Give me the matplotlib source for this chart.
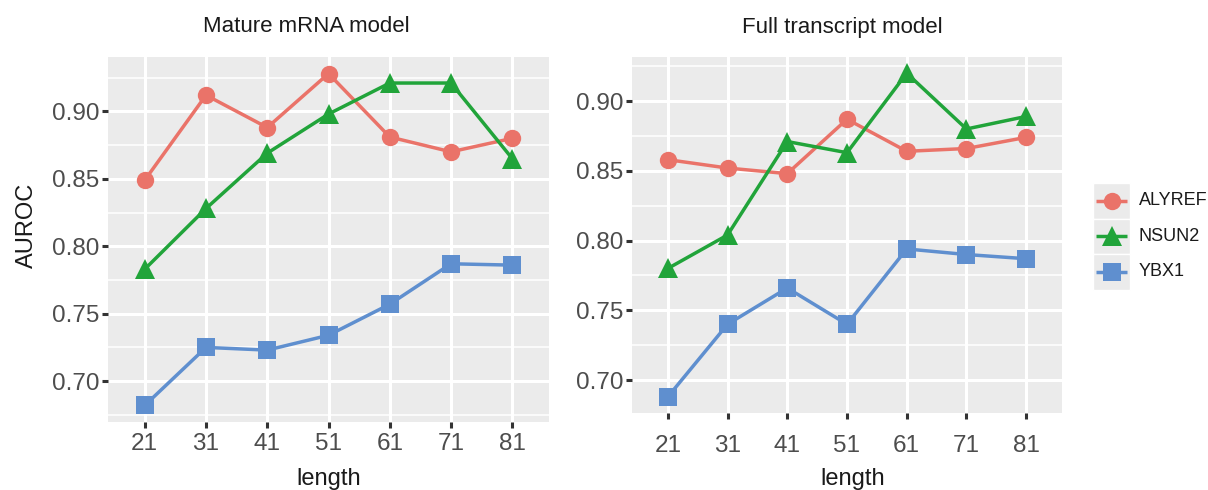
import matplotlib
matplotlib.use("Agg")
import matplotlib.pyplot as plt
from matplotlib.patches import Rectangle
from matplotlib.ticker import FixedLocator
import numpy as np

plt.rcParams['font.family'] = ['Liberation Sans', 'DejaVu Sans']

# ---- data ----
lengths = [21, 31, 41, 51, 61, 71, 81]
series_names = ["ALYREF", "NSUN2", "YBX1"]

mature_alyref = [0.849, 0.912, 0.888, 0.928, 0.881, 0.870, 0.880]
mature_nsun2 = [0.783, 0.828, 0.869, 0.898, 0.921, 0.921, 0.865]
mature_ybx1 = [0.682, 0.725, 0.723, 0.734, 0.757, 0.787, 0.786]

full_alyref = [0.858, 0.852, 0.848, 0.887, 0.864, 0.866, 0.874]
full_nsun2 = [0.780, 0.804, 0.871, 0.863, 0.920, 0.880, 0.889]
full_ybx1 = [0.688, 0.740, 0.766, 0.740, 0.794, 0.790, 0.787]

panel_titles = ["Mature mRNA model", "Full transcript model"]
y_ticks = [0.70, 0.75, 0.80, 0.85, 0.90]
y_minor = [0.675, 0.725, 0.775, 0.825, 0.875, 0.925]
x_label = "length"
y_label = "AUROC"

# ---- styles ----
colors = ['#EA7369', '#21A43A', '#5F8FCF']
markers = ['o', '^', 's']
msizes = [12.5, 14, 12.5]
bg = '#EBEBEB'
tick_col = '#4D4D4D'

W, H = 1208, 490
fig = plt.figure(figsize=(W / 100, H / 100), dpi=100)


def px_axes(x0, y0, x1, y1):
    return fig.add_axes([x0 / W, 1 - y1 / H, (x1 - x0) / W, (y1 - y0) / H])


ax1 = px_axes(108, 57, 549, 422)
ax2 = px_axes(632, 57, 1062, 413)

panels = [
    (ax1, [mature_alyref, mature_nsun2, mature_ybx1], 4, 329),
    (ax2, [full_alyref, full_nsun2, full_ybx1], 12, 853),
]

for ax, data, xpad, xlab_x in panels:
    ax.set_facecolor(bg)
    allv = np.concatenate([np.array(d) for d in data])
    lo, hi = allv.min(), allv.max()
    pad = 0.05 * (hi - lo)
    ax.set_ylim(lo - pad, hi + pad)
    ax.set_xlim(lengths[0] - 6, lengths[-1] + 6)
    for s, vals in enumerate(data):
        ax.plot(lengths, vals, color=colors[s], lw=2.5, marker=markers[s],
                markersize=msizes[s], markeredgewidth=0, zorder=3,
                solid_capstyle='butt')
    ax.yaxis.set_major_locator(FixedLocator(y_ticks))
    ax.yaxis.set_minor_locator(FixedLocator(y_minor))
    ax.set_yticklabels([f"{v:.2f}" for v in y_ticks])
    ax.set_xticks(lengths)
    ax.set_xticklabels([str(v) for v in lengths])
    ax.grid(which='major', color='white', lw=2.2)
    ax.grid(which='minor', axis='y', color='white', lw=1.1)
    ax.set_axisbelow(True)
    for sp in ax.spines.values():
        sp.set_visible(False)
    ax.tick_params(which='major', length=4, width=2.2, color='#333333',
                   labelsize=17.5, labelcolor=tick_col, pad=2)
    ax.tick_params(axis='x', which='major', pad=xpad)
    ax.tick_params(which='minor', length=0)
    fig.text(xlab_x / W, 1 - 479 / H, x_label, fontsize=17, color='#1a1a1a',
             ha='center', va='center')

fig.text(27 / W, 1 - 225 / H, y_label, rotation=90, fontsize=17,
         color='#1a1a1a', ha='center', va='center')
fig.text(306 / W, 1 - 27 / H, panel_titles[0], fontsize=16,
         color='#1a1a1a', ha='center', va='center')
fig.text(842 / W, 1 - 27 / H, panel_titles[1], fontsize=16,
         color='#1a1a1a', ha='center', va='center')

# ---- legend ----
lax = fig.add_axes([0, 0, 1, 1])
lax.set_xlim(0, W)
lax.set_ylim(H, 0)
lax.axis('off')
key_top = 183
key_h = 35.5
for s, name in enumerate(series_names):
    y0 = key_top + s * key_h
    lax.add_patch(Rectangle((1093, y0), 37, key_h, facecolor='#EBEBEB',
                            edgecolor='white', lw=1))
    yc = y0 + key_h / 2
    lax.plot([1096, 1127], [yc, yc], color=colors[s], lw=2.5,
             solid_capstyle='butt')
    lax.plot([1111.5], [yc], color=colors[s], marker=markers[s],
             markersize=msizes[s], markeredgewidth=0, ls='none')
    lax.text(1139, yc, name, fontsize=13, color='#1a1a1a', va='center',
             ha='left')

fig.savefig('out.png', dpi=100)
